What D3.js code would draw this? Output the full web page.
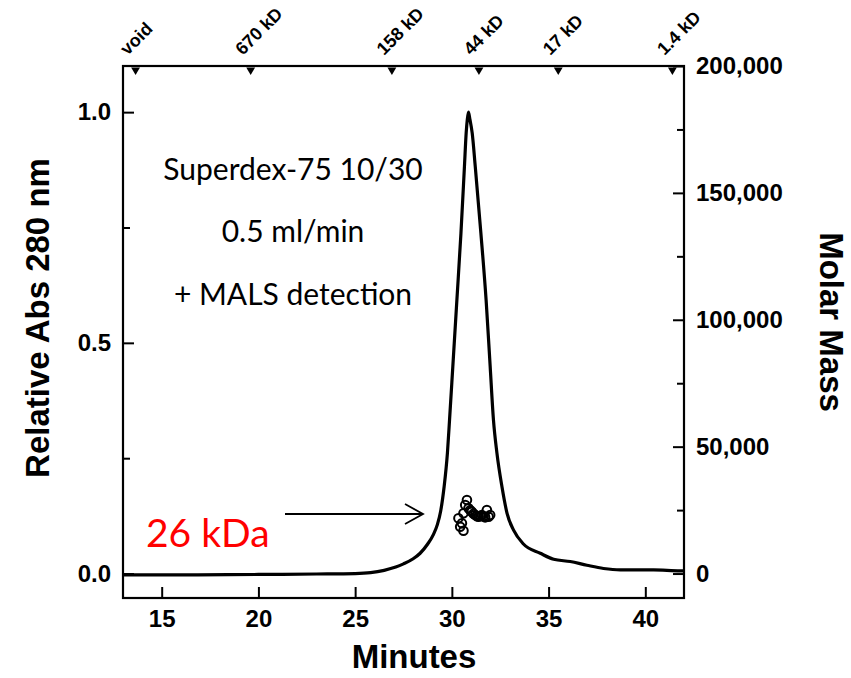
<!DOCTYPE html>
<html>
<head>
<meta charset="utf-8">
<script src="https://cdn.jsdelivr.net/npm/d3@7"></script>
<style>
  body { margin: 0; background: #fff; }
  .axis text { font-family: "Liberation Sans", Arial, sans-serif; font-weight: bold; font-size: 24px; fill: #000; }
  .axis line { stroke: #000; stroke-width: 2px; }
  .title { font-family: "Liberation Sans", Arial, sans-serif; font-weight: bold; font-size: 33px; fill: #000; }
  .note { font-family: Lato, "Open Sans", sans-serif; font-size: 30px; fill: #000; }
</style>
</head>
<body>
<div id="viz"></div>
<script>
// elution profile (minutes, relative abs 280 nm)
var minutes = [13, 16, 20, 23, 25.0, 25.8, 26.5, 27.1, 27.5, 28.0, 28.36, 28.75, 29.05, 29.25, 29.42, 29.6, 29.77, 29.88,
  30.05, 30.26, 30.47, 30.65, 30.74, 30.8, 30.86, 30.93, 31.05, 31.21, 31.5, 31.77, 31.98, 32.15, 32.33,
  32.59, 32.85, 33.19, 33.7, 34.57, 35.26, 36.12, 36.98, 37.84, 38.71, 40.43, 41.81, 42];
var absorbance = [-0.003, -0.003, -0.002, -0.001, 0.0, 0.002, 0.007, 0.014, 0.021, 0.032, 0.044, 0.064, 0.085, 0.106, 0.135, 0.188, 0.261, 0.333,
  0.449, 0.593, 0.738, 0.882, 0.955, 0.985, 1.0, 0.985, 0.955, 0.882, 0.738, 0.593, 0.449, 0.333, 0.261,
  0.188, 0.131, 0.094, 0.064, 0.044, 0.031, 0.026, 0.018, 0.011, 0.008, 0.008, 0.006, 0.006];

// MALS molar mass points across the peak
var malsMinutes = [30.34, 30.43, 30.52, 30.6, 30.6, 30.69, 30.78, 30.86, 30.95, 31.03, 31.12, 31.21, 31.3, 31.38, 31.47, 31.55, 31.64, 31.72, 31.81, 31.9, 31.98];
var malsMass = [21750, 18440, 19780, 16870, 23720, 26990, 28970, 25690, 24900, 24350, 23600, 23050, 22600, 22380, 22700, 23050, 22500, 22150, 25020, 22380, 23050];

// calibration standards on the top axis
var standardNames = ["void", "670 kD", "158 kD", "44 kD", "17 kD", "1.4 kD"];
var standardMinutes = [13.65, 19.6, 26.9, 31.4, 35.5, 41.4];

// tick values
var xTicks = [15, 20, 25, 30, 35, 40];
var absTicks = [0, 0.5, 1.0];
var absMinorTicks = [0.25, 0.75];
var massTicks = [0, 50000, 100000, 150000, 200000];
var massMinorTicks = [25000, 75000, 125000, 175000];

// set the dimensions and margins of the graph
var margin = {top: 66, right: 167, bottom: 80, left: 123},
  width = 851 - margin.left - margin.right,
  height = 678 - margin.top - margin.bottom;

var svg = d3.select("#viz")
  .append("svg")
    .attr("width", width + margin.left + margin.right)
    .attr("height", height + margin.top + margin.bottom)
  .append("g")
    .attr("transform", "translate(" + margin.left + "," + margin.top + ")");

var x = d3.scaleLinear().domain([13, 42]).range([0, width]);
var y = d3.scaleLinear().domain([-0.053, 1.1]).range([height, 0]);
// right axis shares the zero with the left one
var yMass = d3.scaleLinear().domain([-0.053 * 200000 / 1.1, 200000]).range([height, 0]);

// axes (ticks point inward)
svg.append("g").attr("class", "axis")
  .attr("transform", "translate(0," + height + ")")
  .call(d3.axisBottom(x).tickValues(xTicks).tickSize(-11).tickPadding(12).tickFormat(d3.format("d")));

svg.append("g").attr("class", "axis")
  .call(d3.axisLeft(y).tickValues(absTicks).tickSize(-11).tickPadding(12).tickFormat(d3.format(".1f")));
svg.append("g").attr("class", "axis")
  .call(d3.axisLeft(y).tickValues(absMinorTicks).tickSize(-7).tickFormat(""));

svg.append("g").attr("class", "axis")
  .attr("transform", "translate(" + width + ",0)")
  .call(d3.axisRight(yMass).tickValues(massTicks).tickSize(-11).tickPadding(12).tickFormat(d3.format(",")));
svg.append("g").attr("class", "axis")
  .attr("transform", "translate(" + width + ",0)")
  .call(d3.axisRight(yMass).tickValues(massMinorTicks).tickSize(-7).tickFormat(""));

svg.selectAll(".axis .domain").remove();

// frame
svg.append("rect")
  .attr("width", width)
  .attr("height", height)
  .style("fill", "none")
  .style("stroke", "#000")
  .style("stroke-width", 2.2);

// standards: little triangles + rotated labels
var std = svg.append("g")
  .selectAll("g")
  .data(standardNames)
  .enter()
  .append("g")
    .attr("transform", function(d, i) { return "translate(" + x(standardMinutes[i]) + ",0)"; });

std.append("path")
  .attr("d", d3.symbol().type(d3.symbolTriangle).size(34))
  .attr("transform", "translate(0,4) rotate(180)")
  .style("fill", "#000");

std.append("text")
  .attr("transform", "translate(-8,-10) rotate(-45)")
  .style("font-family", "'Liberation Sans', Arial, sans-serif")
  .style("font-weight", "bold")
  .style("font-size", "18px")
  .text(function(d) { return d; });

// elution curve
var line = d3.line()
  .x(function(d, i) { return x(minutes[i]); })
  .y(function(d) { return y(d); })
  .curve(d3.curveMonotoneX);

svg.append("path")
  .datum(absorbance)
  .attr("d", line)
  .style("fill", "none")
  .style("stroke", "#000")
  .style("stroke-width", 3.2)
  .style("stroke-linejoin", "round");

// MALS points
svg.append("g")
  .selectAll("circle")
  .data(malsMass)
  .enter()
  .append("circle")
    .attr("cx", function(d, i) { return x(malsMinutes[i]); })
    .attr("cy", function(d) { return yMass(d); })
    .attr("r", 4.3)
    .style("fill", "none")
    .style("stroke", "#000")
    .style("stroke-width", 2);

// axis titles
svg.append("text")
  .attr("class", "title")
  .attr("x", 414 - margin.left)
  .attr("y", 668 - margin.top)
  .attr("text-anchor", "middle")
  .text("Minutes");

svg.append("text")
  .attr("class", "title")
  .attr("transform", "translate(" + (37 - margin.left) + "," + (318 - margin.top) + ") rotate(-90)")
  .attr("text-anchor", "middle")
  .attr("dominant-baseline", "central")
  .text("Relative Abs 280 nm");

svg.append("text")
  .attr("class", "title")
  .attr("transform", "translate(" + (831 - margin.left) + "," + (322 - margin.top) + ") rotate(90)")
  .attr("text-anchor", "middle")
  .attr("dominant-baseline", "central")
  .text("Molar Mass");

// annotations
var notes = ["Superdex-75 10/30", "0.5 ml/min", "+ MALS detection"];
var noteY = [180, 242, 305];
svg.selectAll(".note")
  .data(notes)
  .enter()
  .append("text")
    .attr("class", "note")
    .attr("x", 293 - margin.left)
    .attr("y", function(d, i) { return noteY[i] - margin.top; })
    .attr("text-anchor", "middle")
    .text(function(d) { return d; });

svg.append("text")
  .attr("x", 146 - margin.left)
  .attr("y", 547 - margin.top)
  .style("font-family", "Lato, 'Open Sans', sans-serif")
  .style("font-size", "39px")
  .style("fill", "#ff0000")
  .text("26 kDa");

// arrow pointing at the MALS points
var arrow = svg.append("g")
  .style("stroke", "#000")
  .style("stroke-width", 1.8)
  .style("fill", "none");
arrow.append("line")
  .attr("x1", 285 - margin.left).attr("y1", 514 - margin.top)
  .attr("x2", 423 - margin.left).attr("y2", 514 - margin.top);
arrow.append("polyline")
  .attr("points", [[405 - margin.left, 504 - margin.top], [423 - margin.left, 514 - margin.top], [405 - margin.left, 524 - margin.top]].join(" "));
</script>
</body>
</html>
